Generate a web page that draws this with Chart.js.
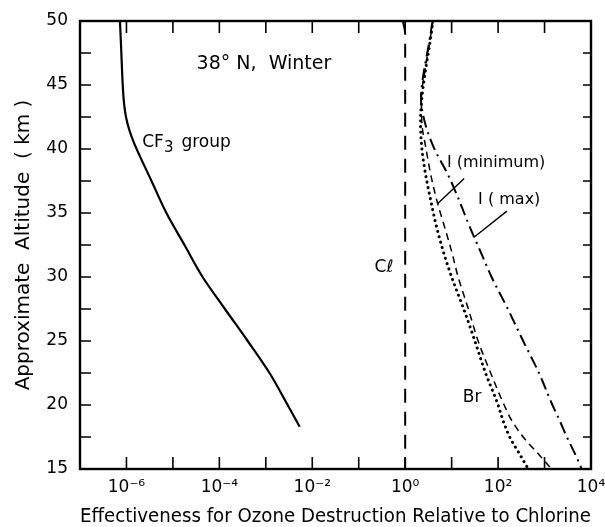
<!DOCTYPE html>
<html>
<head>
<meta charset="utf-8">
<script src="https://cdn.jsdelivr.net/npm/chart.js@4.4.1/dist/chart.umd.min.js"></script>
<style>
  html, body { margin: 0; padding: 0; background: #fff; }
</style>
</head>
<body>
<canvas id="chart" width="605" height="527"></canvas>
<script>
// altitudes in km, effectiveness given as the power of ten
const cf3Alt = [50, 47.5, 45, 43.5, 42.5, 41.5, 40.5, 37.5, 35, 32.5, 30, 27.5, 25, 22.5, 20, 18.3];
const cf3Exp = [-6.14, -6.11, -6.08, -6.05, -6.01, -5.94, -5.84, -5.46, -5.14, -4.75, -4.36, -3.88, -3.39, -2.92, -2.53, -2.27];

const clAlt = [50, 49, 15];
const clExp = [-0.05, 0, 0];

const curveAlt = [50, 48, 46, 44, 42, 40, 38, 36, 34, 32, 30, 27.5, 25, 22.5, 20, 18.75, 17.5, 16, 15];
const brExp   = [0.60, 0.52, 0.43, 0.36, 0.33, 0.36, 0.44, 0.55, 0.67, 0.82, 1.00, 1.26, 1.50, 1.73, 2.00, 2.11, 2.25, 2.49, 2.65];
const iMinExp = [0.60, 0.51, 0.42, 0.35, 0.36, 0.45, 0.55, 0.68, 0.84, 1.00, 1.14, 1.36, 1.57, 1.84, 2.13, 2.30, 2.54, 2.91, 3.15];
const iMaxExp = [0.59, 0.50, 0.40, 0.34, 0.43, 0.63, 0.92, 1.16, 1.38, 1.62, 1.86, 2.21, 2.54, 2.88, 3.17, 3.33, 3.48, 3.68, 3.80];

const xTickExp = [-7, -6, -5, -4, -3, -2, -1, 0, 1, 2, 3, 4];
const xLabelExp = [-6, -4, -2, 0, 2, 4];

const FONT = '"DejaVu Sans", "Liberation Sans", sans-serif';

function toPoints(alts, exps) {
    return alts.map((a, i) => ({ x: Math.pow(10, exps[i]), y: a }));
}

const SUP = { '-': '\u207B', '0': '\u2070', '2': '\u00B2', '4': '\u2074', '6': '\u2076' };
function supText(e) {
    return String(e).split('').map(c => SUP[c]).join('');
}

// texts placed in data coordinates (power of ten, km)
const notes = [
    { text: '38\u00B0 N,  Winter', e: -4.49, alt: 46.6, size: 19 },
    { text: 'I (minimum)', e: 0.90, alt: 38.9, size: 16 },
    { text: 'I ( max)', e: 1.57, alt: 36.0, size: 16 },
    { text: 'C\u2113', e: -0.66, alt: 30.7, size: 17 },
    { text: 'Br', e: 1.24, alt: 20.55, size: 17 }
];
const leaders = [
    [1.27, 37.7, 0.69, 35.7],
    [2.19, 35.15, 1.48, 33.1]
];

const framePlugin = {
    id: 'frame',
    afterDatasetsDraw(chart) {
        const ctx = chart.ctx;
        const a = chart.chartArea;
        const sx = chart.scales.x, sy = chart.scales.y;
        ctx.save();
        ctx.strokeStyle = '#000';
        ctx.lineWidth = 1.6;
        ctx.beginPath();
        sx.ticks.forEach(t => {
            const px = sx.getPixelForValue(t.value);
            ctx.moveTo(px, a.bottom); ctx.lineTo(px, a.bottom - 12);
            ctx.moveTo(px, a.top); ctx.lineTo(px, a.top + 12);
        });
        sy.ticks.forEach(t => {
            const py = sy.getPixelForValue(t.value);
            ctx.moveTo(a.left, py); ctx.lineTo(a.left + 11, py);
            ctx.moveTo(a.right, py); ctx.lineTo(a.right - 8, py);
        });
        ctx.stroke();
        ctx.lineWidth = 2.4;
        ctx.strokeRect(a.left, a.top, a.right - a.left, a.bottom - a.top);

        // annotations
        ctx.fillStyle = '#000';
        ctx.textBaseline = 'middle';
        ctx.textAlign = 'left';
        notes.forEach(n => {
            ctx.font = n.size + 'px ' + FONT;
            ctx.fillText(n.text, sx.getPixelForValue(Math.pow(10, n.e)), sy.getPixelForValue(n.alt));
        });
        // CF3 group with subscript
        let cx = sx.getPixelForValue(Math.pow(10, -5.66));
        const cy = sy.getPixelForValue(40.5);
        ctx.font = '17px ' + FONT;
        ctx.fillText('CF', cx, cy);
        cx += ctx.measureText('CF').width;
        ctx.font = '15px ' + FONT;
        ctx.fillText('3', cx, cy + 6);
        cx += ctx.measureText('3').width + 8;
        ctx.font = '17px ' + FONT;
        ctx.fillText('group', cx, cy);

        ctx.lineWidth = 1.4;
        ctx.beginPath();
        leaders.forEach(l => {
            ctx.moveTo(sx.getPixelForValue(Math.pow(10, l[0])), sy.getPixelForValue(l[1]));
            ctx.lineTo(sx.getPixelForValue(Math.pow(10, l[2])), sy.getPixelForValue(l[3]));
        });
        ctx.stroke();
        ctx.restore();
    }
};

const ctx = document.getElementById('chart').getContext('2d');
new Chart(ctx, {
    type: 'scatter',
    data: {
        datasets: [
            { data: toPoints(cf3Alt, cf3Exp), borderColor: '#000', borderWidth: 2.2 },
            { data: toPoints(clAlt, clExp), borderColor: '#000', borderWidth: 2, borderDash: [14, 9] },
            { data: toPoints(curveAlt, brExp), borderColor: '#000', borderWidth: 3, borderDash: [0.1, 5.5], borderCapStyle: 'round' },
            { data: toPoints(curveAlt, iMinExp), borderColor: '#000', borderWidth: 1.5, borderDash: [7, 5] },
            { data: toPoints(curveAlt, iMaxExp), borderColor: '#000', borderWidth: 2, borderDash: [12, 5, 2, 5] }
        ].map(d => Object.assign({
            showLine: true, pointRadius: 0, fill: false,
            indexAxis: 'y', cubicInterpolationMode: 'monotone'
        }, d))
    },
    options: {
        responsive: false,
        animation: false,
        layout: { padding: { top: 21, right: 14, left: 0, bottom: 0 } },
        plugins: { legend: { display: false }, tooltip: { enabled: false } },
        scales: {
            x: {
                type: 'logarithmic',
                min: 1e-7,
                max: 1e4,
                afterBuildTicks: s => { s.ticks = xTickExp.map(e => ({ value: Math.pow(10, e) })); },
                afterFit: s => { s.height = 58; s.paddingLeft = 0; s.paddingRight = 0; },
                grid: { display: false, drawTicks: false },
                border: { display: false },
                ticks: {
                    padding: 8,
                    autoSkip: false,
                    maxRotation: 0,
                    color: '#000',
                    font: { family: FONT, size: 17 },
                    callback: v => {
                        const e = Math.round(Math.log10(v));
                        return xLabelExp.includes(e) ? '10' + supText(e) : '';
                    }
                },
                title: {
                    display: true,
                    text: 'Effectiveness for Ozone Destruction Relative to Chlorine',
                    color: '#000',
                    font: { family: FONT, size: 19, lineHeight: 1 },
                    padding: { top: 0, bottom: 0 }
                }
            },
            y: {
                min: 15,
                max: 50,
                afterFit: s => { s.width = 80; s.paddingTop = 0; s.paddingBottom = 0; },
                grid: { display: false, drawTicks: false },
                border: { display: false },
                ticks: {
                    stepSize: 2.5,
                    padding: 12,
                    color: '#000',
                    font: { family: FONT, size: 17 },
                    callback: v => (v % 5 === 0 ? v : '')
                },
                title: {
                    display: true,
                    text: 'Approximate  Altitude  ( km )',
                    color: '#000',
                    font: { family: FONT, size: 20, lineHeight: 1 },
                    padding: { top: 14, bottom: 0 }
                }
            }
        }
    },
    plugins: [framePlugin]
});
</script>
</body>
</html>
